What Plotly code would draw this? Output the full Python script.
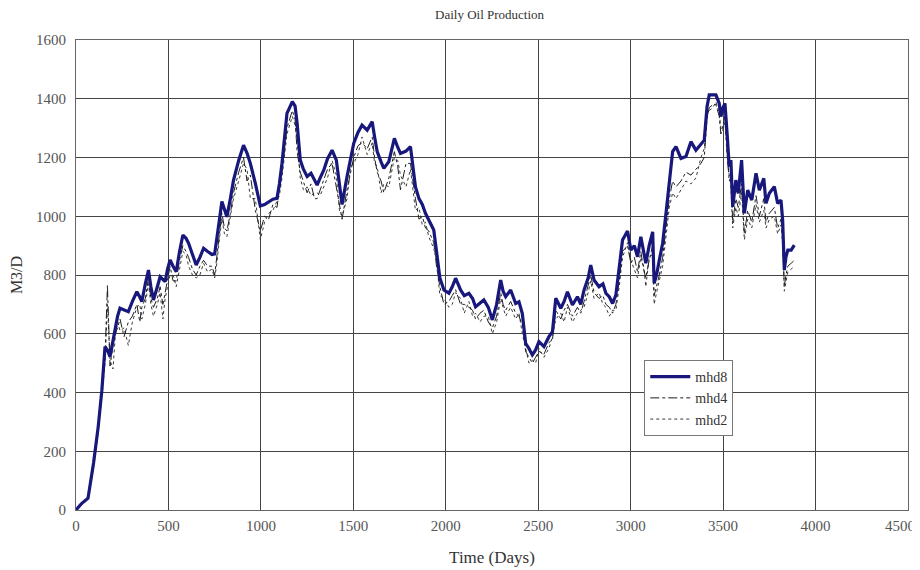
import plotly.graph_objects as go

days = [
    0, 30, 65, 95, 120, 140, 157, 170, 184, 200,
    211, 225, 238, 260, 283, 305, 329, 345, 356, 375,
    392, 405, 419, 440, 455, 470, 482, 495, 509, 525,
    542, 560, 578, 595, 609, 630, 650, 670, 690, 712,
    735, 750, 762, 775, 789, 803, 816, 835, 852, 880,
    906, 925, 943, 970, 997, 1020, 1042, 1065, 1087, 1100,
    1114, 1141, 1170, 1185, 1196, 1213, 1230, 1250, 1271, 1290,
    1304, 1320, 1340, 1360, 1385, 1408, 1425, 1439, 1466, 1485,
    1502, 1525, 1547, 1575, 1602, 1615, 1629, 1650, 1665, 1692,
    1722, 1740, 1755, 1785, 1809, 1836, 1855, 1873, 1890, 1908,
    1935, 1950, 1968, 1990, 2017, 2035, 2053, 2080, 2100, 2125,
    2145, 2161, 2185, 2206, 2230, 2252, 2275, 2297, 2310, 2324,
    2351, 2378, 2396, 2414, 2432, 2450, 2468, 2486, 2504, 2531,
    2558, 2577, 2595, 2622, 2640, 2658, 2685, 2712, 2730, 2748,
    2770, 2784, 2802, 2829, 2850, 2866, 2885, 2902, 2920, 2938,
    2956, 2983, 3001, 3020, 3037, 3055, 3070, 3082, 3100, 3119,
    3127, 3140, 3155, 3173, 3191, 3209, 3227, 3245, 3272, 3299,
    3326, 3353, 3380, 3398, 3413, 3425, 3445, 3461, 3479, 3488,
    3497, 3510, 3524, 3533, 3542, 3552, 3569, 3582, 3600, 3615,
    3633, 3655, 3678, 3696, 3720, 3732, 3750, 3777, 3795, 3813,
    3822, 3831, 3840, 3850, 3868, 3885,
]

mhd8 = [
    0, 22, 40, 160, 283, 408, 556, 545, 522, 580,
    613, 660, 687, 680, 675, 710, 743, 725, 709, 770,
    817, 760, 715, 760, 794, 785, 777, 820, 851, 830,
    811, 880, 936, 925, 908, 870, 834, 860, 891, 880,
    870, 872, 919, 985, 1050, 1020, 998, 1060, 1123, 1190,
    1242, 1215, 1180, 1112, 1035, 1040, 1050, 1058, 1061, 1110,
    1180, 1350, 1390, 1375, 1316, 1191, 1160, 1135, 1146, 1125,
    1106, 1130, 1157, 1195, 1225, 1191, 1110, 1040, 1135, 1200,
    1248, 1285, 1310, 1293, 1322, 1270, 1220, 1185, 1163, 1186,
    1265, 1235, 1214, 1222, 1237, 1100, 1060, 1040, 1010, 987,
    953, 880, 790, 749, 738, 760, 789, 749, 730, 738,
    720, 692, 705, 715, 690, 647, 700, 783, 745, 726,
    749, 703, 709, 669, 567, 550, 528, 545, 573, 556,
    590, 607, 721, 687, 710, 743, 698, 726, 700, 749,
    790, 834, 783, 760, 770, 738, 725, 703, 732, 817,
    919, 950, 885, 900, 862, 930, 880, 840, 900, 947,
    772, 800, 851, 908, 1010, 1123, 1220, 1237, 1197, 1203,
    1254, 1225, 1248, 1259, 1373, 1413, 1413, 1413, 1384, 1339,
    1367, 1384, 1259, 1169, 1191, 1032, 1123, 1078, 1191, 1010,
    1089, 1055, 1146, 1089, 1129, 1044, 1078, 1101, 1044, 1055,
    987, 817, 862, 885, 885, 902,
]

mhd4 = [
    0, 20, 38, 150, 270, 395, 520, 765, 490, 560,
    600, 620, 650, 590, 640, 660, 700, 640, 690, 720,
    790, 720, 690, 720, 760, 700, 740, 790, 830, 780,
    780, 850, 900, 880, 860, 820, 800, 830, 850, 830,
    830, 800, 870, 950, 1010, 960, 950, 1010, 1080, 1150,
    1200, 1120, 1140, 1020, 950, 1000, 990, 1040, 1030, 1090,
    1150, 1300, 1360, 1330, 1220, 1150, 1120, 1080, 1110, 1060,
    1060, 1090, 1120, 1160, 1180, 1100, 1050, 990, 1090, 1150,
    1200, 1240, 1250, 1230, 1270, 1200, 1150, 1120, 1080, 1130,
    1220, 1170, 1090, 1180, 1180, 1060, 990, 1000, 960, 950,
    910, 830, 760, 700, 710, 730, 750, 700, 700, 690,
    680, 650, 670, 680, 640, 620, 660, 740, 700, 680,
    710, 670, 660, 630, 540, 520, 500, 520, 540, 530,
    570, 580, 680, 650, 680, 700, 660, 690, 670, 710,
    760, 800, 740, 720, 730, 700, 690, 670, 700, 780,
    880, 900, 840, 860, 810, 880, 820, 790, 850, 900,
    730, 760, 800, 860, 960, 1060, 1120, 1100, 1120, 1150,
    1140, 1160, 1180, 1200, 1330, 1370, 1380, 1380, 1340, 1280,
    1310, 1340, 1200, 1120, 1130, 980, 1060, 1030, 1110, 940,
    1020, 980, 1070, 1000, 1060, 980, 1010, 1030, 960, 990,
    930, 760, 800, 830, 840, 850,
]

mhd2 = [
    0, 18, 36, 145, 265, 390, 500, 700, 510, 480,
    580, 640, 610, 620, 560, 640, 690, 700, 650, 700,
    770, 700, 660, 700, 740, 650, 720, 760, 800, 800,
    760, 820, 880, 870, 830, 800, 790, 800, 840, 810,
    820, 790, 840, 920, 990, 940, 930, 1000, 1060, 1120,
    1180, 1160, 1060, 1060, 920, 980, 1010, 1020, 1050, 1070,
    1130, 1280, 1340, 1310, 1260, 1130, 1090, 1100, 1070, 1080,
    1080, 1070, 1100, 1130, 1190, 1140, 1020, 1000, 1060, 1170,
    1180, 1210, 1270, 1210, 1250, 1180, 1170, 1080, 1110, 1100,
    1200, 1190, 1140, 1100, 1160, 1020, 1030, 970, 980, 930,
    890, 850, 730, 720, 690, 700, 740, 720, 670, 710,
    660, 670, 640, 660, 660, 600, 640, 720, 690, 660,
    690, 650, 670, 600, 550, 500, 510, 500, 550, 520,
    550, 590, 650, 670, 640, 690, 640, 670, 680, 690,
    740, 780, 720, 740, 700, 690, 660, 680, 680, 760,
    860, 910, 850, 820, 790, 860, 830, 760, 860, 870,
    700, 740, 780, 830, 930, 1030, 1080, 1060, 1090, 1120,
    1110, 1130, 1200, 1230, 1340, 1360, 1370, 1390, 1350, 1300,
    1290, 1320, 1180, 1130, 1100, 960, 1030, 1000, 1080, 920,
    990, 960, 1040, 980, 1020, 960, 990, 1000, 940, 970,
    910, 745, 780, 810, 820, 830,
]

x_ticks = [0, 500, 1000, 1500, 2000, 2500, 3000, 3500, 4000, 4500]
x_tick_labels = ["0", "500", "1000", "1500", "2000", "2500", "3000", "3500", "4000", "4500"]
y_ticks = [0, 200, 400, 600, 800, 1000, 1200, 1400, 1600]

SERIF = "Liberation Serif, DejaVu Serif, serif"
TICK_FONT = dict(family=SERIF, size=15, color="#555555")

fig = go.Figure()
fig.add_trace(go.Scatter(x=days, y=mhd2, mode="lines", name="mhd2",
                         line=dict(color="#3a3a3a", width=1, dash="dot")))
fig.add_trace(go.Scatter(x=days, y=mhd4, mode="lines", name="mhd4",
                         line=dict(color="#1e1e1e", width=1, dash="dashdot")))
fig.add_trace(go.Scatter(x=days, y=mhd8, mode="lines", name="mhd8",
                         line=dict(color="#17177c", width=3.2)))

# the last x tick label sits at the page edge: draw it as an annotation nudged inward
axis_labels = x_tick_labels[:-1] + [""]
fig.add_annotation(x=x_ticks[-1], y=0, xref="x", yref="paper", text=x_tick_labels[-1],
                   showarrow=False, xanchor="center", yanchor="middle",
                   xshift=-8, yshift=-16, font=TICK_FONT)

fig.update_layout(
    width=912, height=562,
    margin=dict(l=68, r=12, t=32, b=60, autoexpand=False),
    paper_bgcolor="white", plot_bgcolor="white",
    title=dict(text="Daily Oil Production", x=0.528, xanchor="center",
               y=0.989, yanchor="middle",
               font=dict(family=SERIF, size=13, color="#333333")),
    font=dict(family=SERIF, size=14, color="#444444"),
    legend=dict(x=0.683, y=0.319, xanchor="left", yanchor="top",
                traceorder="reversed", bgcolor="white", bordercolor="#777777", borderwidth=1,
                font=dict(family=SERIF, size=14, color="#333333"), itemwidth=40,
                tracegroupgap=0),
    showlegend=True,
)
fig.update_xaxes(range=[0, 4500], tickvals=x_ticks, ticktext=axis_labels,
                 showgrid=True, gridcolor="#444444", gridwidth=1,
                 showline=True, linecolor="#666666", linewidth=1, mirror=True,
                 zeroline=False, ticks="", ticklabelstandoff=2,
                 tickfont=TICK_FONT, automargin=False,
                 title=dict(text="Time (Days)", font=dict(size=17, color="#333333"), standoff=18))
fig.update_yaxes(range=[0, 1600], tickvals=y_ticks, ticktext=[str(v) for v in y_ticks],
                 showgrid=True, gridcolor="#444444", gridwidth=1,
                 showline=True, linecolor="#666666", linewidth=1, mirror=True,
                 zeroline=False, ticks="", ticklabelstandoff=6,
                 tickfont=TICK_FONT, automargin=False,
                 title=dict(text="M3/D", font=dict(size=16, color="#333333"), standoff=12))

fig.write_html("out.html")
